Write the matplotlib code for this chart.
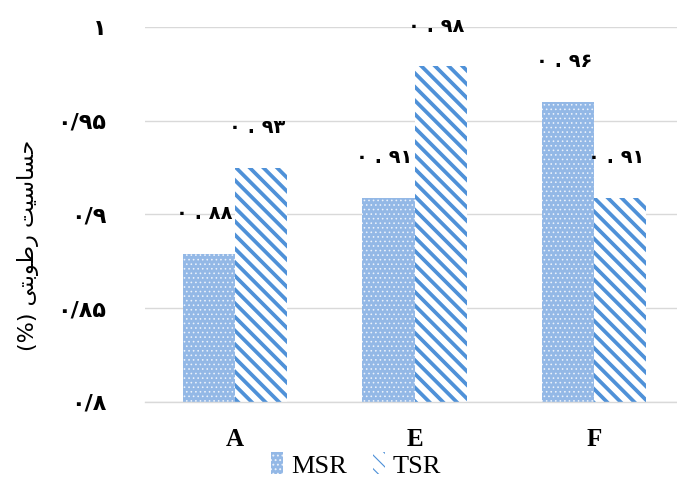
import matplotlib
matplotlib.use("Agg")
import matplotlib.pyplot as plt
import numpy as np

categories = ["A", "E", "F"]
msr = [0.879, 0.909, 0.960]
tsr = [0.925, 0.979, 0.909]
msr_labels = ["۰ . ۸۸", "۰ . ۹۱", "۰ . ۹۶"]
tsr_labels = ["۰ . ۹۳", "۰ . ۹۸", "۰ . ۹۱"]
yticks = [0.8, 0.85, 0.9, 0.95, 1.0]
ytick_labels = ["۰/۸", "۰/۸۵", "۰/۹", "۰/۹۵", "۱"]
series_names = ["MSR", "TSR"]

# y label: "حساسیت رطوبتی (%)" in visual order with presentation forms
ylabel = "(%) \ufef0\ufe98\ufe91\ufeee\ufec3\ufead \ufe96\ufef4\ufeb3\ufe8e\ufeb4\ufea3"

# lower dpi so the hatch spacing matches the reference; sizes given as if at 100 dpi
DPI = 82


def pt(v):
    return v * 100 / DPI


fig = plt.figure(figsize=(677 / DPI, 489 / DPI), dpi=DPI)
ax = fig.add_axes([145 / 677, 87 / 489, 1 - 145 / 677, 375 / 489])

x = np.arange(len(categories))
w = 0.29
with plt.rc_context({"hatch.linewidth": pt(0.6)}):
    b1 = ax.bar(x - w / 2, np.array(msr) - 0.8, w, bottom=0.8, facecolor="#93b8e6",
                edgecolor="#eaf1fb", hatch="...", linewidth=0, label=series_names[0])
with plt.rc_context({"hatch.linewidth": pt(2.7)}):
    b2 = ax.bar(x + w / 2, np.array(tsr) - 0.8, w, bottom=0.8, facecolor="white",
                edgecolor="#4f91d8", hatch="\\\\", linewidth=0, label=series_names[1])

for bars, labels in ((b1, msr_labels), (b2, tsr_labels)):
    for rect, lab in zip(bars, labels):
        ax.annotate(lab, (rect.get_x() + rect.get_width() / 2, rect.get_y() + rect.get_height()),
                    xytext=(pt(-3), pt(29)), textcoords="offset points", ha="center", va="center",
                    fontsize=pt(14), fontweight="bold", family="DejaVu Sans")

ax.set_xlim(-0.5, 2.46)
ax.set_ylim(0.8, 1.0)
ax.set_yticks(yticks)
ax.set_yticklabels(ytick_labels, fontsize=pt(16), fontweight="bold", family="DejaVu Sans")
ax.set_xticks(x)
ax.set_xticklabels(categories, fontsize=pt(18), fontweight="bold", family="Liberation Serif")
ax.tick_params(axis="y", length=0, pad=pt(28))
ax.tick_params(axis="x", length=0, pad=pt(19))
ax.grid(axis="y", color="#d9d9d9", linewidth=pt(1))
ax.set_axisbelow(True)
for s in ["top", "right", "left"]:
    ax.spines[s].set_visible(False)
ax.spines["bottom"].set_color("#d9d9d9")
ax.spines["bottom"].set_linewidth(pt(1))

fig.text(28 / 677, 1 - 245 / 489, ylabel, rotation=90, ha="center", va="center",
         fontsize=pt(16), family="DejaVu Sans")

fig.legend(loc="center", bbox_to_anchor=(356 / 677, 1 - 465 / 489), ncol=2, frameon=False,
           prop={"family": "Liberation Serif", "size": pt(19)}, handlelength=0.45,
           handleheight=0.9, handletextpad=0.3, columnspacing=1.0)

fig.savefig("out.png", dpi=DPI)
